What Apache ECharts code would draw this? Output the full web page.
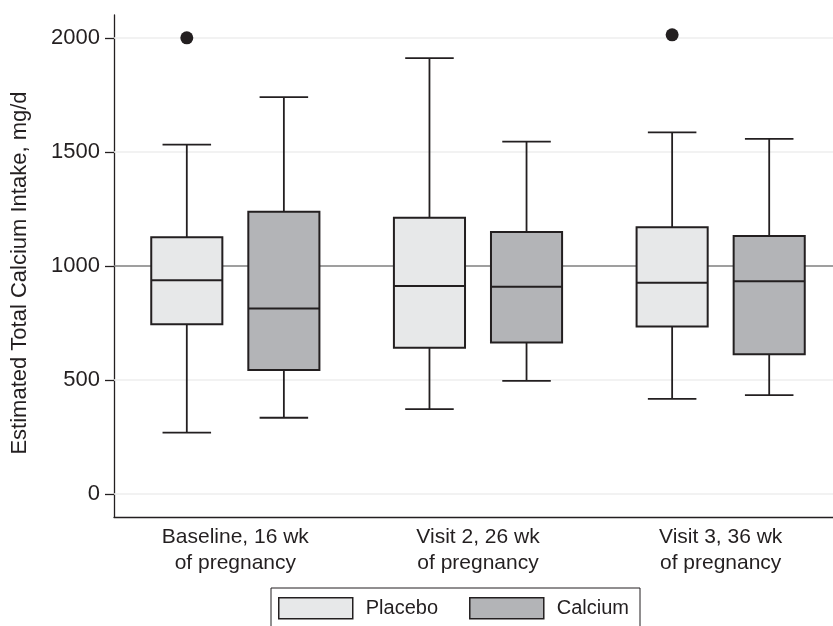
<!DOCTYPE html>
<html>
<head>
<meta charset="utf-8">
<script src="https://cdn.jsdelivr.net/npm/echarts@6/dist/echarts.min.js"></script>
<style>
  html, body { margin: 0; padding: 0; background: #fff; overflow: hidden; width: 833px; height: 626px; }
  #chart { width: 842px; height: 626px; }
</style>
</head>
<body>
<div id="chart"></div>
<script>
// Categories (x axis)
var categories = ['Baseline, 16 wk\nof pregnancy', 'Visit 2, 26 wk\nof pregnancy', 'Visit 3, 36 wk\nof pregnancy'];
var seriesNames = ['Placebo', 'Calcium'];

// Box statistics per category: [lower whisker, Q1, median, Q3, upper whisker]
var placeboStats = [
  [270, 745, 938, 1126, 1532],
  [373, 642, 912, 1212, 1911],
  [418, 735, 927, 1170, 1586]
];
var calciumStats = [
  [335, 544, 814, 1238, 1740],
  [497, 665, 909, 1149, 1545],
  [434, 613, 933, 1132, 1557]
];

// Outliers: [category index, value]
var placeboOutliers = [[0, 2000], [2, 2013]];
var calciumOutliers = [];

var yTicks = [0, 500, 1000, 1500, 2000];
var referenceValue = 1000;

var LINE = '#231f20';
var fills = ['#e7e8e9', '#b3b4b7'];
var offsets = [-0.2, 0.2];

function boxData(stats) {
  return stats.map(function (s, i) { return [i].concat(s); });
}

function makeBoxRender(seriesIdx) {
  return function (params, api) {
    var cat = api.value(0);
    var band = api.size([1, 0])[0];
    var off = offsets[seriesIdx] * band;
    var bw = band * 0.293;
    var cw = band * 0.2;
    var pLo = api.coord([cat, api.value(1)]);
    var pQ1 = api.coord([cat, api.value(2)]);
    var pMed = api.coord([cat, api.value(3)]);
    var pQ3 = api.coord([cat, api.value(4)]);
    var pHi = api.coord([cat, api.value(5)]);
    var cx = pLo[0] + off;
    var ls = { stroke: LINE, lineWidth: 1.8 };
    return {
      type: 'group',
      children: [
        { type: 'line', shape: { x1: cx, y1: pHi[1], x2: cx, y2: pQ3[1] }, style: ls },
        { type: 'line', shape: { x1: cx, y1: pQ1[1], x2: cx, y2: pLo[1] }, style: ls },
        { type: 'line', shape: { x1: cx - cw / 2, y1: pHi[1], x2: cx + cw / 2, y2: pHi[1] }, style: ls },
        { type: 'line', shape: { x1: cx - cw / 2, y1: pLo[1], x2: cx + cw / 2, y2: pLo[1] }, style: ls },
        { type: 'rect', shape: { x: cx - bw / 2, y: pQ3[1], width: bw, height: pQ1[1] - pQ3[1] },
          style: { fill: fills[seriesIdx], stroke: LINE, lineWidth: 2 } },
        { type: 'line', shape: { x1: cx - bw / 2, y1: pMed[1], x2: cx + bw / 2, y2: pMed[1] },
          style: { stroke: LINE, lineWidth: 2 } }
      ]
    };
  };
}

function makeOutlierRender(seriesIdx) {
  return function (params, api) {
    var cat = api.value(0);
    var band = api.size([1, 0])[0];
    var p = api.coord([cat, api.value(1)]);
    return {
      type: 'circle',
      shape: { cx: p[0] + offsets[seriesIdx] * band, cy: p[1], r: 6.5 },
      style: { fill: LINE }
    };
  };
}

var chart = echarts.init(document.getElementById('chart'), null, { renderer: 'canvas' });

var font = 'Liberation Sans, Arial, Helvetica, sans-serif';

chart.setOption({
  animation: false,
  backgroundColor: '#ffffff',
  textStyle: { fontFamily: font },
  grid: { left: 114, right: 0, top: 15, bottom: 109, containLabel: false },
  legend: {
    data: [
      { name: 'Placebo', itemStyle: { color: fills[0], borderColor: LINE, borderWidth: 1.5 } },
      { name: 'Calcium', itemStyle: { color: fills[1], borderColor: LINE, borderWidth: 1.5 } }
    ],
    left: 271,
    top: 588,
    icon: 'rect',
    itemWidth: 74,
    itemHeight: 21,
    itemGap: 31,
    padding: [9, 11, 20, 7],
    borderColor: LINE,
    borderWidth: 1,
    selectedMode: false,
    textStyle: { fontFamily: font, fontSize: 20, color: LINE, padding: [0, 0, 0, 8] }
  },
  xAxis: {
    type: 'category',
    data: categories,
    boundaryGap: true,
    axisLine: { show: true, onZero: false, lineStyle: { color: LINE, width: 1.3 } },
    axisTick: { show: false },
    axisLabel: { fontFamily: font, fontSize: 21, color: LINE, lineHeight: 26, margin: 7, interval: 0 },
    splitLine: { show: false }
  },
  yAxis: {
    type: 'value',
    min: -100,
    max: 2100,
    interval: 100,
    axisLine: { show: true, onZero: false, lineStyle: { color: LINE, width: 1.3 } },
    axisTick: {
      show: true, length: 9, lineStyle: { color: LINE, width: 1.3 },
      customValues: yTicks
    },
    axisLabel: {
      fontFamily: font, fontSize: 22, color: LINE, margin: 14,
      customValues: yTicks,
      formatter: function (v) { return String(v); }
    },
    splitLine: { show: false }
  },
  graphic: [
    {
      type: 'text',
      x: 20, y: 273,
      rotation: Math.PI / 2,
      style: {
        text: 'Estimated Total Calcium Intake, mg/d',
        fontFamily: font, fontSize: 22, fill: LINE,
        align: 'center', verticalAlign: 'middle'
      }
    }
  ],
  series: [
    {
      name: 'Placebo',
      type: 'custom',
      renderItem: makeBoxRender(0),
      data: boxData(placeboStats),
      encode: { x: 0, y: [1, 2, 3, 4, 5] },
      z: 3,
      markLine: {
        silent: true,
        symbol: 'none',
        label: { show: false },
        lineStyle: { color: '#eeeeee', width: 1.5, type: 'solid' },
        data: yTicks.filter(function (v) { return v !== referenceValue; }).map(function (v) { return { yAxis: v }; }),
        z: 1
      }
    },
    {
      name: 'Calcium',
      type: 'custom',
      renderItem: makeBoxRender(1),
      data: boxData(calciumStats),
      encode: { x: 0, y: [1, 2, 3, 4, 5] },
      z: 3,
      markLine: {
        silent: true,
        symbol: 'none',
        label: { show: false },
        lineStyle: { color: '#7f7f7f', width: 1.6, type: 'solid' },
        data: [{ yAxis: referenceValue }],
        z: 2
      }
    },
    {
      name: 'Placebo',
      type: 'custom',
      renderItem: makeOutlierRender(0),
      data: placeboOutliers,
      encode: { x: 0, y: 1 },
      z: 3
    },
    {
      name: 'Calcium',
      type: 'custom',
      renderItem: makeOutlierRender(1),
      data: calciumOutliers,
      encode: { x: 0, y: 1 },
      z: 3
    }
  ]
});
</script>
</body>
</html>
